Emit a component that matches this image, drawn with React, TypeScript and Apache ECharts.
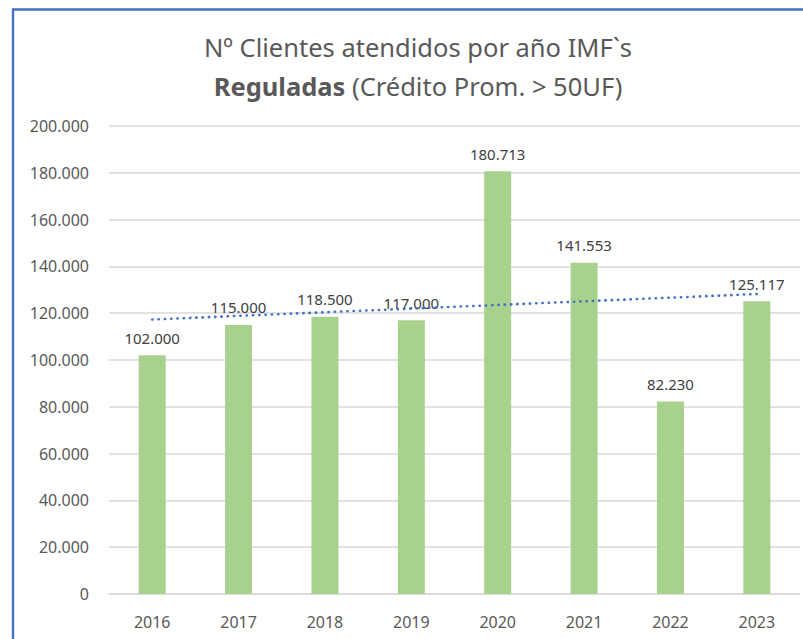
import React, { useEffect, useRef } from "react";
import * as echarts from "echarts";

const years = ["2016", "2017", "2018", "2019", "2020", "2021", "2022", "2023"];
const clients = [102000, 115000, 118500, 117000, 180713, 141553, 82230, 125117];
// linear trendline end points (2016 and 2023)
const trendEnds = [117300, 128200];
const titleLine1 = "Nº Clientes atendidos por año IMF`s";
const titleBold = "Reguladas";
const titleRest = " (Crédito Prom. > 50UF)";

const fmt = (v: number) => String(Math.round(v)).replace(/\B(?=(\d{3})+(?!\d))/g, ".");

const FONT = "'Noto Sans', 'Open Sans', sans-serif";

export default function App() {
  const ref = useRef<HTMLDivElement>(null);
  useEffect(() => {
    if (!ref.current) return;
    const chart = echarts.init(ref.current, undefined, { renderer: "svg" });
    const trendData = years.map((_, i) =>
      i === 0 ? trendEnds[0] : i === years.length - 1 ? trendEnds[1] : null
    );
    chart.setOption({
      animation: false,
      backgroundColor: "#ffffff",
      textStyle: { fontFamily: FONT },
      grid: { left: 109, right: 3, top: 126, bottom: 45, containLabel: false },
      graphic: [
        {
          type: "polyline",
          shape: { points: [[13, 700], [13, 9.5], [810, 9.5]] },
          style: { stroke: "#4472C4", lineWidth: 2.4, fill: null },
          z: 100,
        },
        {
          type: "text",
          x: 418,
          y: 47,
          style: {
            text: titleLine1,
            fontFamily: FONT,
            fontSize: 25.5,
            fill: "#595959",
            align: "center",
            verticalAlign: "middle",
          },
        },
        {
          type: "text",
          x: 418,
          y: 86,
          style: {
            text: `{b|${titleBold}}{c|${titleRest}}`,
            align: "center",
            verticalAlign: "middle",
            rich: {
              b: { fontFamily: FONT, fontSize: 25.5, fontWeight: "bold", fill: "#595959", color: "#595959" },
              c: { fontFamily: FONT, fontSize: 25.5, fill: "#595959", color: "#595959" },
            },
          },
        },
      ],
      xAxis: {
        type: "category",
        data: years,
        axisTick: { show: false },
        axisLine: { show: true, lineStyle: { color: "#d9d9d9", width: 1.6 } },
        axisLabel: { color: "#595959", fontSize: 16, margin: 20, fontFamily: FONT },
        splitLine: { show: false },
      },
      yAxis: {
        type: "value",
        min: 0,
        max: 200000,
        interval: 20000,
        axisLine: { show: false },
        axisTick: { show: false },
        axisLabel: {
          color: "#595959",
          fontSize: 16,
          margin: 20,
          fontFamily: FONT,
          formatter: (v: number) => fmt(v),
        },
        splitLine: { lineStyle: { color: "#d9d9d9", width: 1.6 } },
      },
      series: [
        {
          type: "bar",
          data: clients,
          barWidth: 27,
          itemStyle: { color: "#A9D18E" },
          label: {
            show: true,
            position: "top",
            distance: 10,
            color: "#404040",
            fontSize: 15,
            fontFamily: FONT,
            formatter: (p: any) => fmt(p.value),
          },
        },
        {
          type: "line",
          data: trendData,
          connectNulls: true,
          symbol: "none",
          silent: true,
          z: 5,
          lineStyle: { color: "#4472C4", width: 2.6, type: [0.3, 6], cap: "round" },
        },
      ],
    });
    return () => chart.dispose();
  }, []);
  return (
    <div
      ref={ref}
      style={{ position: "fixed", left: 0, top: 0, width: 803, height: 639, background: "#fff" }}
    />
  );
}
